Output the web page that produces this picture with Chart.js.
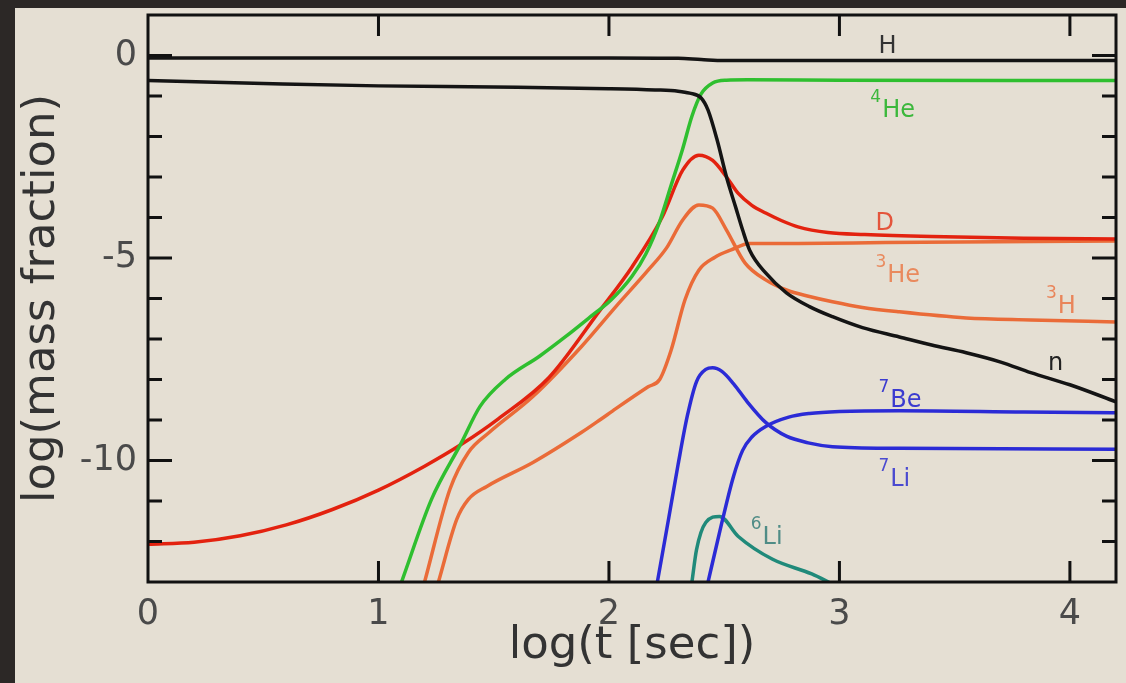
<!DOCTYPE html>
<html><head><meta charset="utf-8">
<script src="https://cdn.jsdelivr.net/npm/chart.js@4/dist/chart.umd.min.js"></script>
<style>html,body{margin:0;padding:0;background:#2c2826;overflow:hidden}
canvas{position:absolute;left:0;top:0}</style></head>
<body><canvas id="c" width="1126" height="683"></canvas>
<script>
// ---- tick labels / tick marks ----
const xTickLabels = [0, 1, 2, 3, 4];
const yTickLabels = [0, -5, -10];
const yTickMarks  = [1, 0, -1, -2, -3, -4, -5, -6, -7, -8, -9, -10, -11, -12, -13];

// ---- series (x = log t [sec], y = log mass fraction) ----
const H_x  = [0, 1, 2, 2.3, 2.4, 2.5, 3, 4.2];
const H_y  = [-0.06, -0.06, -0.06, -0.07, -0.1, -0.125, -0.125, -0.125];

const n_x  = [0, 0.5, 1.0, 1.5, 2.0, 2.2, 2.3, 2.35, 2.4, 2.43, 2.47, 2.51, 2.55, 2.58, 2.61, 2.68, 2.77, 2.87, 2.97, 3.1, 3.26, 3.4, 3.55, 3.7, 3.83, 4.0, 4.2];
const n_y  = [-0.62, -0.69, -0.75, -0.78, -0.82, -0.85, -0.88, -0.93, -1.05, -1.35, -2.1, -3.0, -3.75, -4.31, -4.8, -5.37, -5.86, -6.2, -6.45, -6.72, -6.95, -7.15, -7.34, -7.57, -7.83, -8.13, -8.55];

const He4_x = [1.10, 1.23, 1.36, 1.44, 1.55, 1.7, 1.81, 1.92, 2.01, 2.1, 2.16, 2.22, 2.27, 2.32, 2.36, 2.40, 2.45, 2.51, 2.6, 3, 4.2];
const He4_y = [-13, -10.96, -9.56, -8.67, -8.0, -7.42, -6.95, -6.45, -6.03, -5.45, -4.9, -4.1, -3.2, -2.3, -1.5, -0.95, -0.68, -0.61, -0.6, -0.61, -0.62];

const D_x = [0, 0.2, 0.4, 0.6, 0.8, 1.0, 1.2, 1.36, 1.52, 1.74, 1.96, 2.10, 2.23, 2.32, 2.39, 2.45, 2.51, 2.56, 2.62, 2.68, 2.75, 2.82, 2.95, 3.11, 3.4, 3.8, 4.2];
const D_y = [-12.07, -12.02, -11.86, -11.59, -11.21, -10.73, -10.14, -9.6, -8.97, -7.95, -6.3, -5.22, -4.0, -2.83, -2.46, -2.59, -3.0, -3.4, -3.7, -3.89, -4.08, -4.23, -4.37, -4.42, -4.47, -4.51, -4.53];

const H3_x = [1.20, 1.31, 1.39, 1.48, 1.67, 1.88, 2.03, 2.17, 2.25, 2.32, 2.39, 2.45, 2.51, 2.59, 2.68, 2.77, 2.87, 2.97, 3.1, 3.26, 3.55, 3.83, 4.2];
const H3_y = [-13, -10.71, -9.8, -9.31, -8.42, -7.19, -6.2, -5.3, -4.75, -4.06, -3.69, -3.77, -4.31, -5.12, -5.54, -5.79, -5.95, -6.08, -6.22, -6.33, -6.48, -6.53, -6.58];

const He3_x = [1.26, 1.34, 1.39, 1.47, 1.67, 1.88, 1.96, 2.03, 2.17, 2.22, 2.27, 2.33, 2.39, 2.46, 2.53, 2.61, 2.82, 3.2, 4.2];
const He3_y = [-13, -11.45, -10.96, -10.64, -10.05, -9.31, -9.0, -8.72, -8.18, -8.0, -7.27, -6.03, -5.3, -4.98, -4.8, -4.64, -4.64, -4.62, -4.58];

const Be7_x = [2.21, 2.26, 2.30, 2.34, 2.38, 2.42, 2.45, 2.49, 2.54, 2.6, 2.68, 2.77, 2.87, 2.97, 3.26, 4.2];
const Be7_y = [-13, -11.4, -10.1, -8.9, -8.05, -7.75, -7.71, -7.8, -8.1, -8.55, -9.06, -9.4, -9.57, -9.66, -9.7, -9.72];

const Li7_x = [2.43, 2.49, 2.54, 2.58, 2.62, 2.68, 2.78, 2.87, 3.0, 3.26, 3.8, 4.2];
const Li7_y = [-13, -11.53, -10.4, -9.75, -9.42, -9.16, -8.93, -8.84, -8.79, -8.77, -8.8, -8.82];

const Li6_x = [2.36, 2.38, 2.42, 2.48, 2.56, 2.71, 2.88, 2.97];
const Li6_y = [-13, -12.2, -11.53, -11.38, -11.87, -12.44, -12.8, -13.05];

// ---- curve annotations (anchor in data units: left edge, main baseline) ----
const curveLabels = [
  {sup:'',  main:'H',  x:3.169, y:0.074,  color:'#333333'},
  {sup:'4', main:'He', x:3.134, y:-1.527, color:'#3cb83c'},
  {sup:'',  main:'D',  x:3.156, y:-4.31,  color:'#e4553c'},
  {sup:'3', main:'He', x:3.156, y:-5.59,  color:'#e98a5e'},
  {sup:'3', main:'H',  x:3.896, y:-6.35,  color:'#e9855a'},
  {sup:'',  main:'n',  x:3.905, y:-7.76,  color:'#222222'},
  {sup:'7', main:'Be', x:3.169, y:-8.67,  color:'#3b3bd0'},
  {sup:'7', main:'Li', x:3.169, y:-10.64, color:'#4a4ad0'},
  {sup:'6', main:'Li', x:2.615, y:-12.07, color:'#4f8c86'}
];

const pts = (xs, ys) => xs.map((x, i) => ({x, y: ys[i]}));
const FONT = 'DejaVu Sans';

const series = [
  {name:'H',    xs:H_x,   ys:H_y,   color:'#141414'},
  {name:'n',    xs:n_x,   ys:n_y,   color:'#141414'},
  {name:'4He',  xs:He4_x, ys:He4_y, color:'#2fbf2f'},
  {name:'D',    xs:D_x,   ys:D_y,   color:'#e3220f'},
  {name:'3H',   xs:H3_x,  ys:H3_y,  color:'#ea6b38'},
  {name:'3He',  xs:He3_x, ys:He3_y, color:'#ea6b38'},
  {name:'7Be',  xs:Be7_x, ys:Be7_y, color:'#2b2bd6'},
  {name:'7Li',  xs:Li7_x, ys:Li7_y, color:'#2b2bd6'},
  {name:'6Li',  xs:Li6_x, ys:Li6_y, color:'#208a7a'}
];

const decor = {
  id: 'decor',
  beforeDraw(chart) {
    const c = chart.ctx;
    c.save();
    c.fillStyle = '#2c2826'; c.fillRect(0, 0, chart.width, chart.height);
    c.fillStyle = '#e5dfd3'; c.fillRect(15, 8, chart.width - 15, chart.height - 8);
    c.restore();
  },
  afterDatasetsDraw(chart) {
    const c = chart.ctx, a = chart.chartArea, xs = chart.scales.x, ys = chart.scales.y;
    c.save();
    c.strokeStyle = '#111'; c.lineWidth = 3;
    c.strokeRect(a.left, a.top, a.right - a.left, a.bottom - a.top);
    c.lineCap = 'butt';
    xTickLabels.forEach(v => {
      if (v === 0) return;
      const px = xs.getPixelForValue(v);
      c.beginPath();
      c.moveTo(px, a.bottom); c.lineTo(px, a.bottom - 21);
      c.moveTo(px, a.top); c.lineTo(px, a.top + 21);
      c.stroke();
    });
    yTickMarks.forEach(v => {
      if (v <= ys.min || v >= ys.max) return;
      const py = ys.getPixelForValue(v);
      const L = (v % 5 === 0) ? 24 : 14;
      c.beginPath();
      c.moveTo(a.left, py); c.lineTo(a.left + L, py);
      c.moveTo(a.right, py); c.lineTo(a.right - L, py);
      c.stroke();
    });
    c.textBaseline = 'alphabetic'; c.textAlign = 'left';
    curveLabels.forEach(l => {
      let px = xs.getPixelForValue(l.x);
      const py = ys.getPixelForValue(l.y);
      c.fillStyle = l.color;
      if (l.sup) {
        c.font = '17px "' + FONT + '"';
        c.fillText(l.sup, px, py - 15);
        px += c.measureText(l.sup).width + 1;
      }
      c.font = '24px "' + FONT + '"';
      c.fillText(l.main, px, py);
    });
    c.restore();
  }
};

new Chart(document.getElementById('c'), {
  type: 'line',
  data: {
    datasets: series.map(s => ({
      label: s.name, data: pts(s.xs, s.ys), borderColor: s.color,
      borderWidth: 3.5, pointRadius: 0, fill: false,
      cubicInterpolationMode: 'monotone'
    }))
  },
  options: {
    responsive: false, animation: false, devicePixelRatio: 1,
    layout: {padding: {top: 15, right: 10, left: 0, bottom: 0}},
    plugins: {legend: {display: false}, tooltip: {enabled: false}},
    scales: {
      x: {
        type: 'linear', min: 0, max: 4.2,
        afterBuildTicks: s => { s.ticks = xTickLabels.map(v => ({value: v})); },
        afterFit: s => { s.height = 101; s.paddingLeft = 0; s.paddingRight = 0; },
        grid: {display: false, drawTicks: false}, border: {display: false},
        ticks: {autoSkip: false, maxRotation: 0, padding: 12, color: '#4a4a4a',
          font: {family: FONT, size: 35},
          callback: v => String(v)},
        title: {display: true, text: 'log(t [sec])', color: '#333',
          font: {family: FONT, size: 45}, padding: {top: 0, bottom: 10}}
      },
      y: {
        type: 'linear', min: -13, max: 1,
        afterBuildTicks: s => { s.ticks = yTickLabels.map(v => ({value: v})); },
        afterFit: s => { s.width = 148; s.paddingTop = 0; s.paddingBottom = 0; },
        grid: {display: false, drawTicks: false}, border: {display: false},
        ticks: {autoSkip: false, padding: 11, color: '#4a4a4a',
          font: {family: FONT, size: 35},
          callback: v => String(v)},
        title: {display: true, text: 'log(mass fraction)', color: '#333',
          font: {family: FONT, size: 45}, padding: {top: 15, bottom: 0}}
      }
    }
  },
  plugins: [decor]
});
</script></body></html>
